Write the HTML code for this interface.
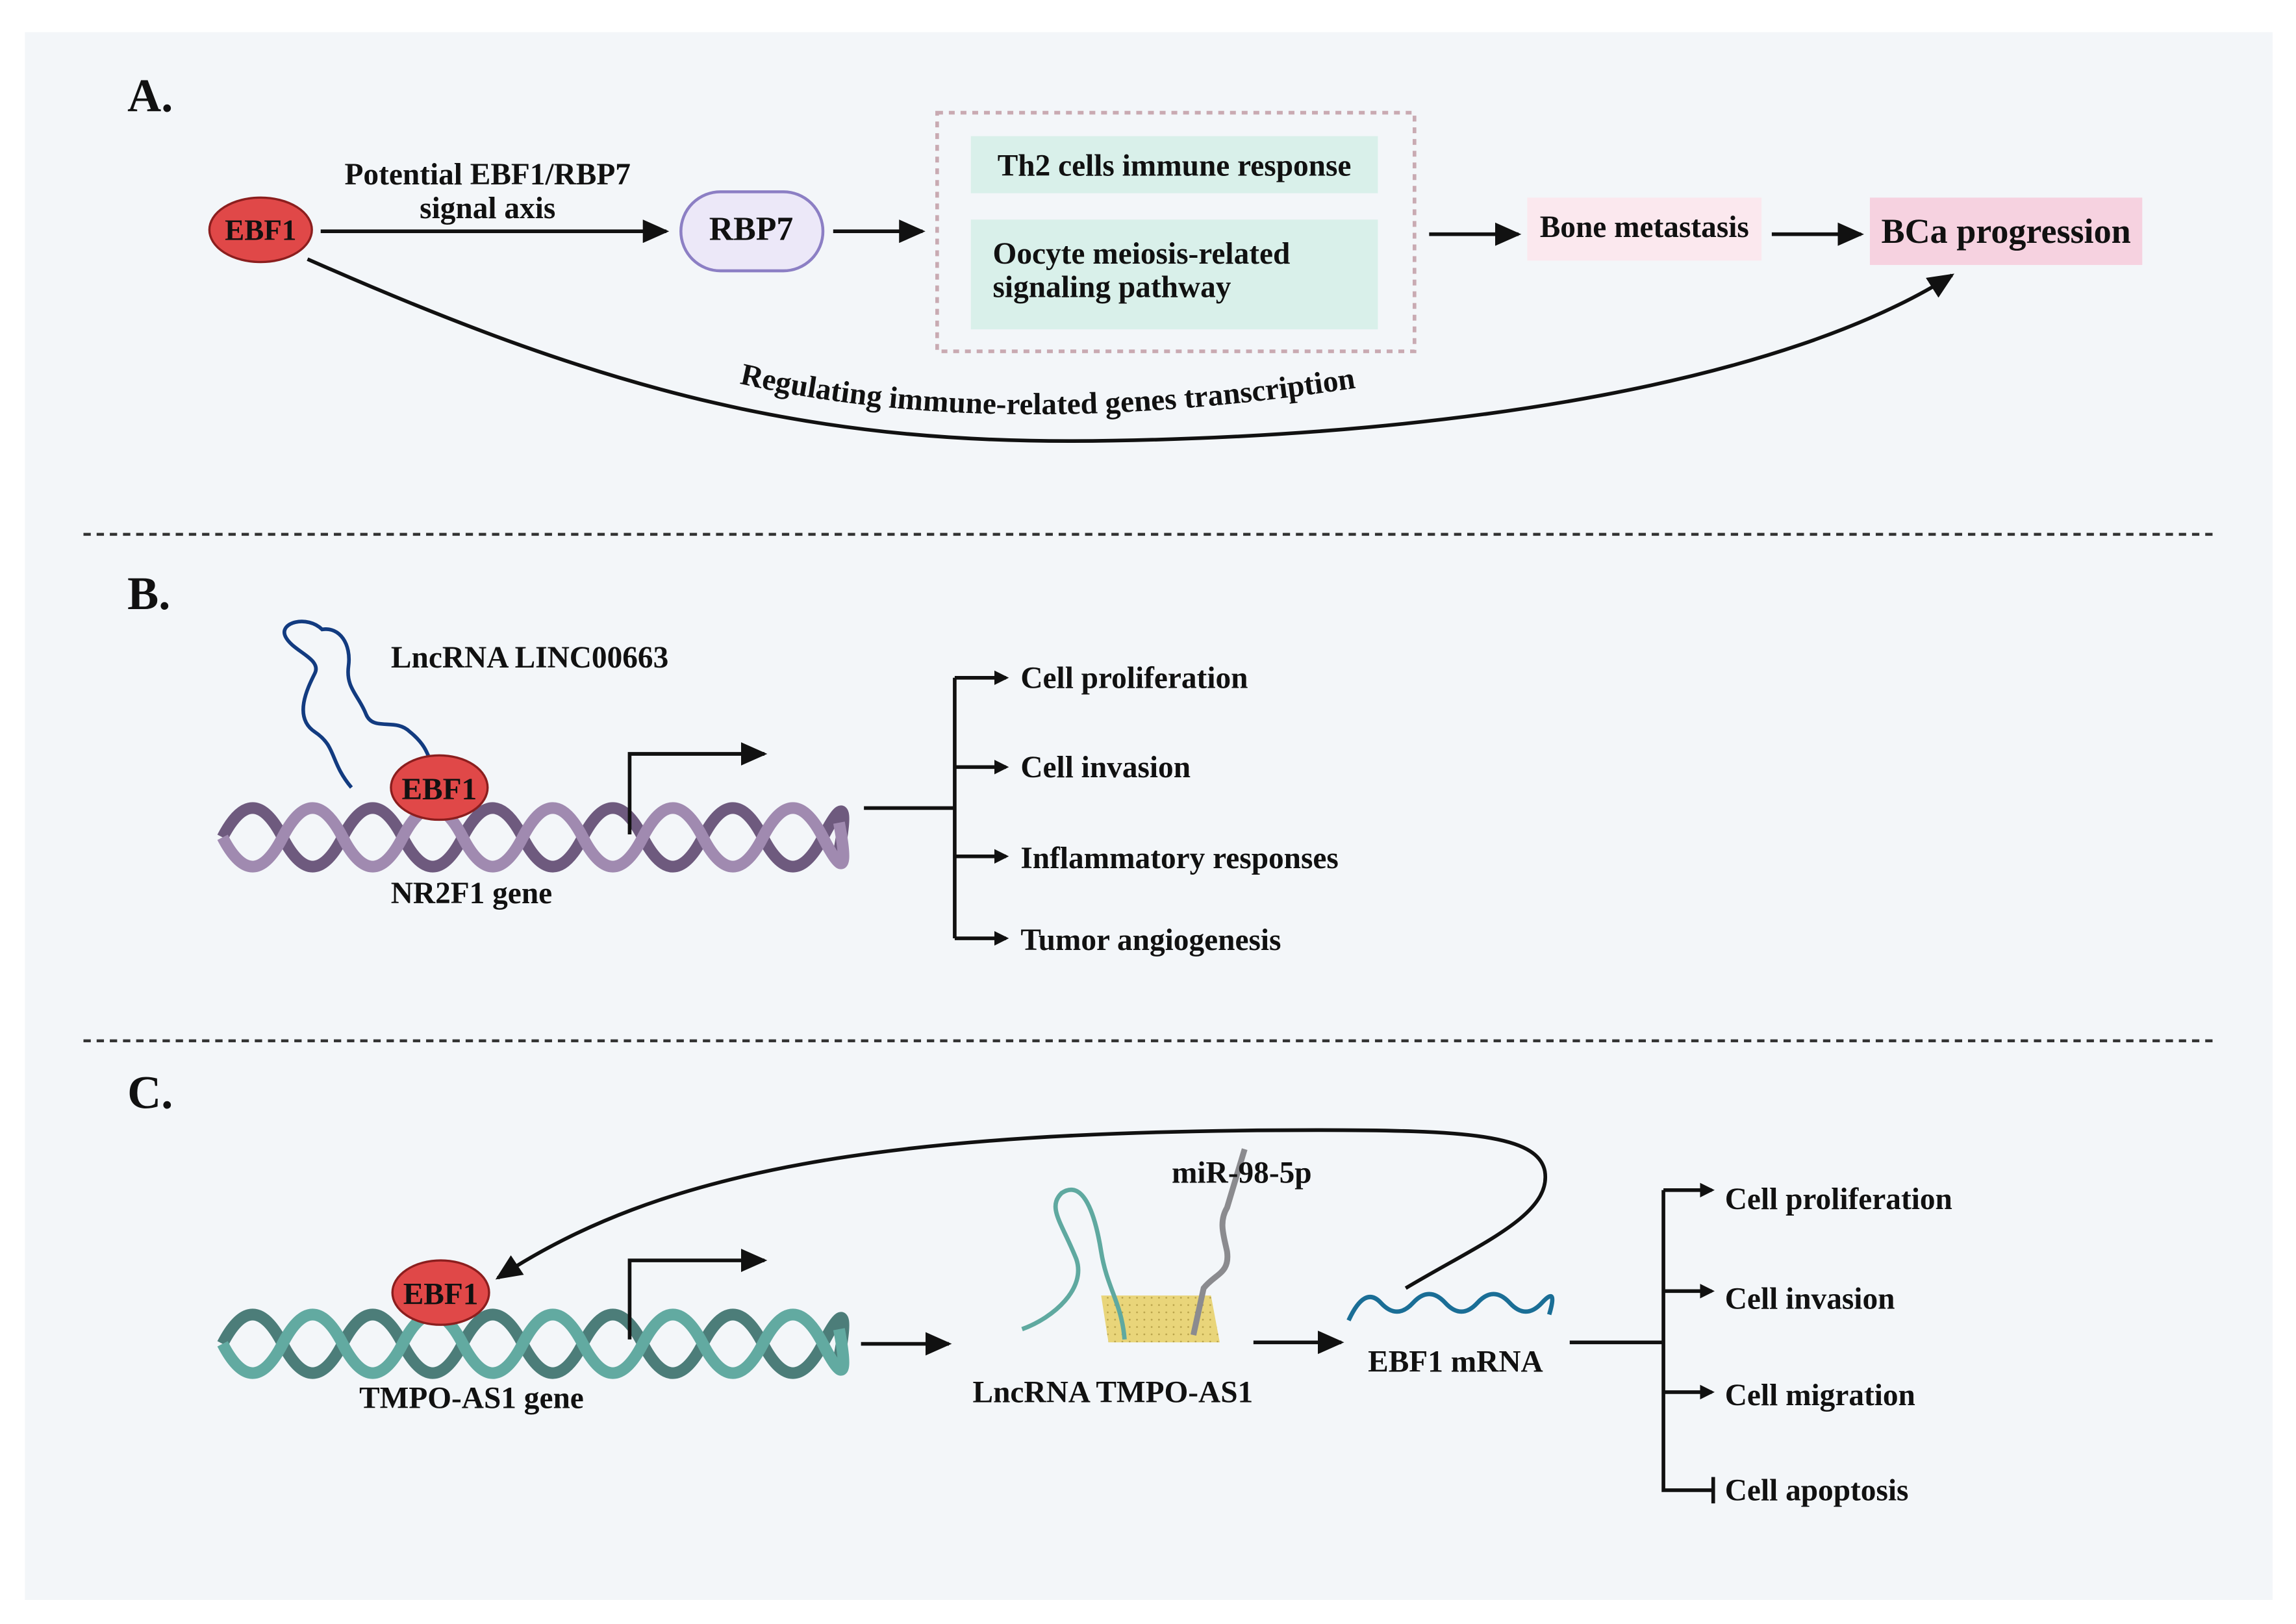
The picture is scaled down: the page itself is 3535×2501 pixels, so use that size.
<!DOCTYPE html>
<html><head><meta charset="utf-8"><style>
html,body{margin:0;padding:0;background:#fff}
svg{display:block}
text{font-family:"Liberation Serif",serif;font-weight:bold;fill:#111}
</style></head><body>
<svg width="3535" height="2501" viewBox="0 0 1568 1109.4" preserveAspectRatio="none" xmlns="http://www.w3.org/2000/svg">
<defs>
<marker id="ah" markerWidth="10" markerHeight="10" refX="8" refY="5" orient="auto" markerUnits="userSpaceOnUse"><path d="M0,0 L10,5 L0,10 Z" fill="#111"/></marker>
<marker id="ahb" markerWidth="18" markerHeight="16" refX="16" refY="8" orient="auto" markerUnits="userSpaceOnUse"><path d="M0,0 L18,8 L0,16 Z" fill="#111"/></marker>
<pattern id="dots" width="5" height="5" patternUnits="userSpaceOnUse"><rect width="5" height="5" fill="#e9d57a"/><circle cx="1.5" cy="1.5" r="0.6" fill="#b8a24a"/></pattern>
</defs>
<rect x="0" y="0" width="1568" height="1110" fill="#fff"/>
<rect x="17" y="22" width="1535" height="1071" fill="#f3f6f9"/>

<!-- Panel A -->
<text x="87" y="76" font-size="32">A.</text>
<ellipse cx="178" cy="157" rx="35" ry="22" fill="#e04848" stroke="#8b1e1e" stroke-width="1.5"/>
<text x="178" y="164" font-size="20" text-anchor="middle">EBF1</text>
<line x1="219" y1="158" x2="455" y2="158" stroke="#111" stroke-width="2.5" marker-end="url(#ahb)"/>
<text x="333" y="126" font-size="21" text-anchor="middle">Potential EBF1/RBP7</text>
<text x="333" y="149" font-size="21" text-anchor="middle">signal axis</text>
<rect x="465" y="131" width="97" height="54" rx="27" fill="#ece8f8" stroke="#8c7fc4" stroke-width="2"/>
<text x="513" y="164" font-size="23" text-anchor="middle">RBP7</text>
<line x1="569" y1="158" x2="630" y2="158" stroke="#111" stroke-width="2.5" marker-end="url(#ahb)"/>
<rect x="640" y="77" width="326" height="163" fill="none" stroke="#c9aab2" stroke-width="2.5" stroke-dasharray="4,4"/>
<rect x="663" y="93" width="278" height="39" fill="#d9f0ea"/>
<text x="802" y="120" font-size="21" text-anchor="middle">Th2 cells immune response</text>
<rect x="663" y="150" width="278" height="75" fill="#d9f0ea"/>
<text x="678" y="180" font-size="21">Oocyte meiosis-related</text>
<text x="678" y="203" font-size="21">signaling pathway</text>
<line x1="976" y1="160" x2="1037" y2="160" stroke="#111" stroke-width="2.5" marker-end="url(#ahb)"/>
<rect x="1043" y="135" width="160" height="43" fill="#fbe8ee"/>
<text x="1123" y="162" font-size="21" text-anchor="middle">Bone metastasis</text>
<line x1="1210" y1="160" x2="1271" y2="160" stroke="#111" stroke-width="2.5" marker-end="url(#ahb)"/>
<rect x="1277" y="135" width="186" height="46" fill="#f6d2e0"/>
<text x="1370" y="166" font-size="24" text-anchor="middle">BCa progression</text>
<path d="M210,177 C420,270 560,305 760,301 C1000,297 1220,260 1333,188" fill="none" stroke="#111" stroke-width="2.5" marker-end="url(#ahb)"/>
<path id="tp" d="M505,262 C620,288 760,292 945,262" fill="none"/>
<text font-size="21"><textPath href="#tp">Regulating immune-related genes transcription</textPath></text>

<line x1="57" y1="365" x2="1513" y2="365" stroke="#333" stroke-width="2" stroke-dasharray="5,4"/>
<line x1="57" y1="711" x2="1513" y2="711" stroke="#333" stroke-width="2" stroke-dasharray="5,4"/>

<!-- Panel B -->
<text x="87" y="416" font-size="32">B.</text>
<g fill="none" stroke-width="8">
<path d="M152,572 Q172.5,532 193,572 T234,572 T275,572 T316,572 T357,572 T398,572 T439,572 T480,572 T521,572 T562,572 T573,582" stroke="#6e5a7e"/>
<path d="M152,572 Q172.5,612 193,572 T234,572 T275,572 T316,572 T357,572 T398,572 T439,572 T480,572 T521,572 T562,572 T573,562" stroke="#a08ab0"/>
</g>
<path d="M240,538 C225,520 230,510 215,500 C200,490 210,470 215,460 C220,450 200,445 195,435 C190,425 210,420 220,430 C232,428 240,440 238,455 C236,470 245,475 250,488 C255,500 270,490 280,500 C290,508 292,515 294,520" fill="none" stroke="#123b80" stroke-width="2.5"/>
<ellipse cx="300" cy="538" rx="33" ry="22" fill="#e04848" stroke="#8b1e1e" stroke-width="1.5"/>
<text x="300" y="546" font-size="21" text-anchor="middle">EBF1</text>
<text x="267" y="456" font-size="21">LncRNA LINC00663</text>
<text x="322" y="617" font-size="21" text-anchor="middle">NR2F1 gene</text>
<path d="M430,570 L430,515 L522,515" fill="none" stroke="#111" stroke-width="2.5" marker-end="url(#ahb)"/>
<path d="M590,552 L652,552 M652,463 L652,641" fill="none" stroke="#111" stroke-width="2.5"/>
<g stroke="#111" stroke-width="2.5" marker-end="url(#ah)">
<line x1="652" y1="463" x2="687" y2="463"/><line x1="652" y1="524" x2="687" y2="524"/>
<line x1="652" y1="585" x2="687" y2="585"/><line x1="652" y1="641" x2="687" y2="641"/>
</g>
<text x="697" y="470" font-size="21">Cell proliferation</text>
<text x="697" y="531" font-size="21">Cell invasion</text>
<text x="697" y="593" font-size="21">Inflammatory responses</text>
<text x="697" y="649" font-size="21">Tumor angiogenesis</text>

<!-- Panel C -->
<text x="87" y="757" font-size="32">C.</text>
<g fill="none" stroke-width="8">
<path d="M152,918 Q172.5,878 193,918 T234,918 T275,918 T316,918 T357,918 T398,918 T439,918 T480,918 T521,918 T562,918 T573,928" stroke="#4c7d79"/>
<path d="M152,918 Q172.5,958 193,918 T234,918 T275,918 T316,918 T357,918 T398,918 T439,918 T480,918 T521,918 T562,918 T573,908" stroke="#62aaa1"/>
</g>
<ellipse cx="301" cy="883" rx="33" ry="22" fill="#e04848" stroke="#8b1e1e" stroke-width="1.5"/>
<text x="301" y="891" font-size="21" text-anchor="middle">EBF1</text>
<text x="322" y="962" font-size="21" text-anchor="middle">TMPO-AS1 gene</text>
<path d="M430,915 L430,861 L522,861" fill="none" stroke="#111" stroke-width="2.5" marker-end="url(#ahb)"/>
<line x1="588" y1="918" x2="648" y2="918" stroke="#111" stroke-width="2.5" marker-end="url(#ahb)"/>
<path d="M752,885 L827,885 L833,917 L757,917 Z" fill="url(#dots)"/>
<path d="M698,908 C720,900 742,880 735,860 C725,835 715,825 725,815 C740,805 748,830 752,855 C756,880 766,890 768,915" fill="none" stroke="#5fa9a0" stroke-width="3"/>
<path d="M815,912 L822,880 C830,870 840,870 838,855 C836,845 832,835 838,825 L850,785" fill="none" stroke="#8b8b8f" stroke-width="4"/>
<text x="848" y="808" font-size="21" text-anchor="middle">miR-98-5p</text>
<text x="760" y="958" font-size="21" text-anchor="middle">LncRNA TMPO-AS1</text>
<line x1="856" y1="917" x2="916" y2="917" stroke="#111" stroke-width="2.5" marker-end="url(#ahb)"/>
<path d="M921,902 Q932,878 943,890 T965,890 T987,890 T1009,890 T1031,890 T1053,890 T1058,898" fill="none" stroke="#1a6e96" stroke-width="3"/>
<text x="994" y="937" font-size="21" text-anchor="middle">EBF1 mRNA</text>
<path d="M960,880 C1010,850 1060,830 1055,800 C1050,775 1000,772 900,772 C600,772 450,800 340,873" fill="none" stroke="#111" stroke-width="2.5" marker-end="url(#ahb)"/>
<path d="M1072,917 L1136,917 M1136,813 L1136,1018 L1170,1018 M1170,1009 L1170,1027" fill="none" stroke="#111" stroke-width="2.5"/>
<g stroke="#111" stroke-width="2.5" marker-end="url(#ah)">
<line x1="1136" y1="813" x2="1169" y2="813"/><line x1="1136" y1="882" x2="1169" y2="882"/>
<line x1="1136" y1="951" x2="1169" y2="951"/>
</g>
<text x="1178" y="826" font-size="21">Cell proliferation</text>
<text x="1178" y="894" font-size="21">Cell invasion</text>
<text x="1178" y="960" font-size="21">Cell migration</text>
<text x="1178" y="1025" font-size="21">Cell apoptosis</text>
</svg>
</body></html>
